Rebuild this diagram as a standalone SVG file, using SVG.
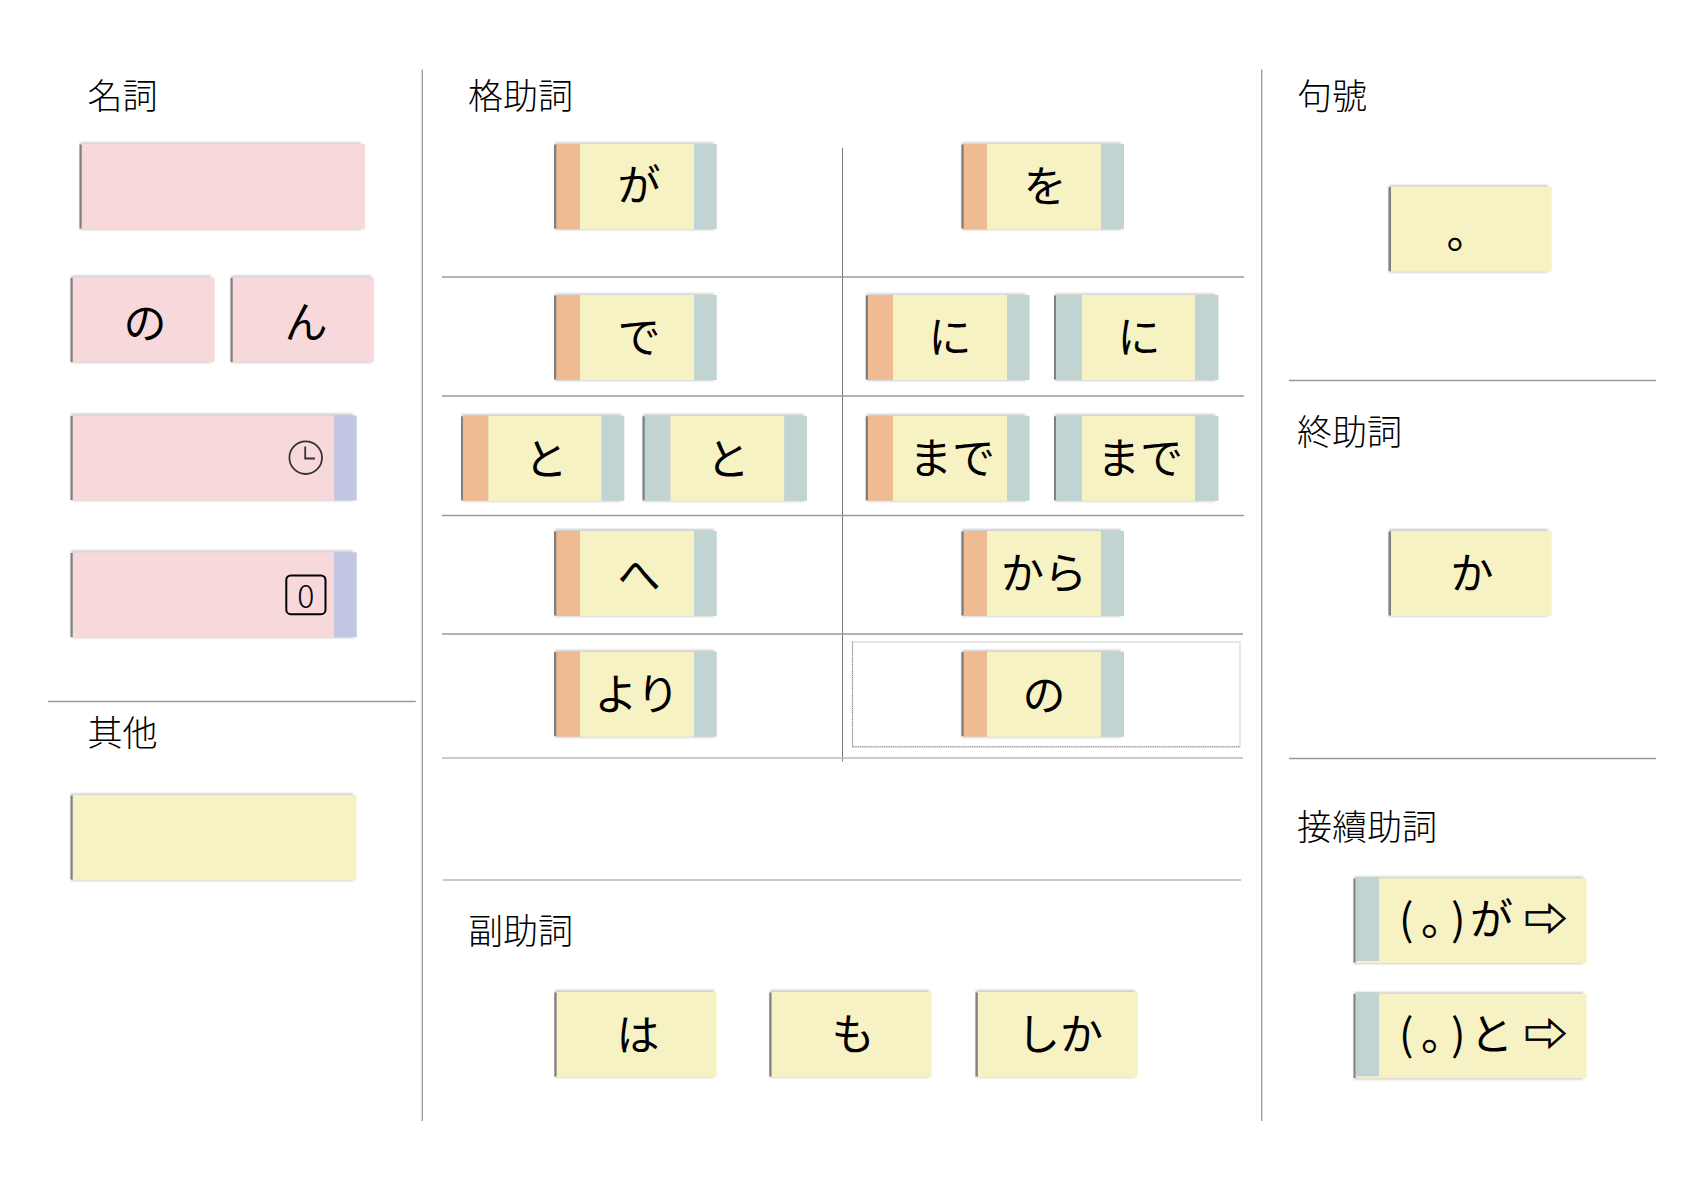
<svg xmlns="http://www.w3.org/2000/svg" width="1684" height="1190" viewBox="0 0 1684 1190">
<style>
text{font-family:"Noto Sans CJK JP","Noto Sans",sans-serif;fill:#000}
.t{font-size:35px;font-weight:300}
.k{font-size:43px;text-anchor:middle}
.p{fill:#F8D9DB}.y{fill:#F7F2C3}.o{fill:#EFBB93}.g{fill:#C1D4D1}.b{fill:#C1C6E3}
.s1{fill:#CCC;filter:url(#bl)}.s2{fill:#808080;filter:url(#bs)}
.l{stroke:#999;stroke-width:1.3;fill:none}.d{stroke:#777;stroke-width:1;fill:none}.m{stroke:#BBB;stroke-width:1.6;fill:none}
</style>
<defs>
<filter id="bl" x="-10%" y="-10%" width="120%" height="120%"><feGaussianBlur stdDeviation="1.1"/></filter>
<filter id="bs" x="-200%" y="-5%" width="500%" height="110%"><feGaussianBlur stdDeviation="0.7"/></filter>
</defs>
<rect width="1684" height="1190" fill="#fff"/>
<g id="connectors">
<path class="l" d="M422.3 69.5V1121M1261.7 69.5V1121"/>
<path class="d" d="M842.5 148V761.5"/>
<path class="l" d="M48 701.5H415.7M442 277H1244M442 396H1244M442 515.5H1244M442 634H1243"/>
<path class="m" d="M442 758H1243M443 880H1241"/>
<path class="l" d="M1289 380.5H1656M1289 758.5H1656"/>
<rect x="852.5" y="642" width="387.5" height="105" fill="none" stroke="#DDD" stroke-width="1.4"/>
<path d="M852.5 642V746.7H1240" fill="none" stroke="#777" stroke-width="1" stroke-dasharray="1 1.2"/>
</g>
<g id="titles">
<text class="t" x="87.5" y="109">名詞</text>
<text class="t" x="87.5" y="746">其他</text>
<text class="t" x="468" y="109">格助詞</text>
<text class="t" x="468" y="944">副助詞</text>
<text class="t" x="1297" y="109">句號</text>
<text class="t" x="1297" y="445">終助詞</text>
<text class="t" x="1297" y="839.5">接續助詞</text>
</g>
<g id="n-noun-blank"><rect class="s1" x="80" y="142.5" width="281" height="87.5"/><rect class="s2" x="79.5" y="144.5" width="3" height="84"/><rect class="p" x="81.7" y="144" width="283.3" height="85.3"/></g>
<g id="n-no"><rect class="s1" x="71" y="275.5" width="140" height="87.5"/><rect class="s2" x="70.5" y="278" width="3" height="84"/><rect class="p" x="72.7" y="277.3" width="142" height="85"/><text class="k" x="145" y="339">の</text></g>
<g id="n-n"><rect class="s1" x="231" y="275.5" width="140" height="87.5"/><rect class="s2" x="230.5" y="278" width="3" height="84"/><rect class="p" x="232.7" y="277.3" width="141.3" height="85"/><text class="k" x="306" y="338">ん</text></g>
<g id="n-clock"><rect class="s1" x="71" y="413.5" width="282" height="87.5"/><rect class="s2" x="70.5" y="416" width="3" height="84"/><rect class="p" x="72.7" y="415.5" width="261.3" height="85"/><rect class="b" x="334" y="415.5" width="22.7" height="85"/>
<circle cx="305.7" cy="457.7" r="16.3" fill="none" stroke="#333" stroke-width="1.8"/><path d="M305.2 446.5V458.5H315" fill="none" stroke="#333" stroke-width="1.8"/></g>
<g id="n-zero"><rect class="s1" x="71" y="550.5" width="282" height="87.5"/><rect class="s2" x="70.5" y="553" width="3" height="84"/><rect class="p" x="72.7" y="552.3" width="261.3" height="85"/><rect class="b" x="334" y="552.3" width="22.7" height="85"/>
<rect x="286.3" y="575.5" width="39.2" height="38.7" rx="4.5" fill="none" stroke="#000" stroke-width="2"/><text x="305.7" y="608" font-size="32" font-weight="300" text-anchor="middle">0</text></g>
<g id="n-other"><rect class="s1" x="71" y="793.5" width="282" height="87.5"/><rect class="s2" x="70.5" y="795.5" width="3" height="84"/><rect class="y" x="72.7" y="795" width="283.8" height="85.3"/></g>
<g id="n-ga"><rect class="s1" x="555" y="142.5" width="159" height="87.5"/><rect class="s2" x="554" y="144.5" width="3" height="84"/><rect class="o" x="556.3" y="144" width="23.7" height="85.3"/><rect class="y" x="580" y="144" width="114" height="85.3"/><rect class="g" x="694" y="144" width="22.7" height="85.3"/><text class="k" x="639" y="201">が</text></g>
<g id="n-wo"><rect class="s1" x="962" y="142.5" width="159" height="87.5"/><rect class="s2" x="961.3" y="144.5" width="3" height="84"/><rect class="o" x="963.7" y="144" width="23.3" height="85.3"/><rect class="y" x="987" y="144" width="114" height="85.3"/><rect class="g" x="1101" y="144" width="23" height="85.3"/><text class="k" x="1045" y="202">を</text></g>
<g id="n-de"><rect class="s1" x="555" y="293.5" width="159" height="87.5"/><rect class="s2" x="554" y="295.5" width="3" height="84"/><rect class="o" x="556.3" y="295" width="23.7" height="85"/><rect class="y" x="580" y="295" width="114" height="85"/><rect class="g" x="694" y="295" width="22.7" height="85"/><text class="k" x="639" y="353">で</text></g>
<g id="n-ni1"><rect class="s1" x="866.5" y="293.5" width="159" height="87.5"/><rect class="s2" x="865.7" y="295.5" width="3" height="84"/><rect class="o" x="868" y="295" width="25" height="85"/><rect class="y" x="893" y="295" width="114" height="85"/><rect class="g" x="1007" y="295" width="22.5" height="85"/><text class="k" x="950" y="353">に</text></g>
<g id="n-ni2"><rect class="s1" x="1055" y="293.5" width="160" height="87.5"/><rect class="s2" x="1054" y="295.5" width="3" height="84"/><rect class="g" x="1056" y="295" width="26" height="85"/><rect class="y" x="1082" y="295" width="113" height="85"/><rect class="g" x="1195" y="295" width="23.5" height="85"/><text class="k" x="1139" y="353">に</text></g>
<g id="n-to1"><rect class="s1" x="462" y="414" width="159" height="87.5"/><rect class="s2" x="461" y="416.3" width="3" height="84"/><rect class="o" x="463" y="415.8" width="25.5" height="85"/><rect class="y" x="488.5" y="415.8" width="113.2" height="85"/><rect class="g" x="601.7" y="415.8" width="22.6" height="85"/><text class="k" x="546" y="475">と</text></g>
<g id="n-to2"><rect class="s1" x="643" y="414" width="161" height="87.5"/><rect class="s2" x="642.5" y="416.3" width="3" height="84"/><rect class="g" x="644.7" y="415.8" width="25.8" height="85"/><rect class="y" x="670.5" y="415.8" width="113.9" height="85"/><rect class="g" x="784.4" y="415.8" width="22.6" height="85"/><text class="k" x="728" y="475">と</text></g>
<g id="n-made1"><rect class="s1" x="866.5" y="414" width="159" height="87.5"/><rect class="s2" x="865.7" y="416.3" width="3" height="84"/><rect class="o" x="868" y="415.8" width="25" height="85"/><rect class="y" x="893" y="415.8" width="114" height="85"/><rect class="g" x="1007" y="415.8" width="22.5" height="85"/><text class="k" x="952" y="474">まで</text></g>
<g id="n-made2"><rect class="s1" x="1055" y="414" width="160" height="87.5"/><rect class="s2" x="1054" y="416.3" width="3" height="84"/><rect class="g" x="1056" y="415.8" width="26" height="85"/><rect class="y" x="1082" y="415.8" width="113" height="85"/><rect class="g" x="1195" y="415.8" width="23.5" height="85"/><text class="k" x="1140" y="474">まで</text></g>
<g id="n-he"><rect class="s1" x="555" y="529" width="159" height="87.5"/><rect class="s2" x="554" y="531.5" width="3" height="84"/><rect class="o" x="556.3" y="531" width="23.7" height="85"/><rect class="y" x="580" y="531" width="114" height="85"/><rect class="g" x="694" y="531" width="22.7" height="85"/><text class="k" x="639" y="591">へ</text></g>
<g id="n-kara"><rect class="s1" x="962" y="529" width="159" height="87.5"/><rect class="s2" x="961.3" y="531.5" width="3" height="84"/><rect class="o" x="963.7" y="531" width="23.3" height="85"/><rect class="y" x="987" y="531" width="114" height="85"/><rect class="g" x="1101" y="531" width="23" height="85"/><text class="k" x="1044" y="589">から</text></g>
<g id="n-yori"><rect class="s1" x="555" y="650" width="159" height="87.5"/><rect class="s2" x="554" y="652.2" width="3" height="84"/><rect class="o" x="556.3" y="651.7" width="23.7" height="85"/><rect class="y" x="580" y="651.7" width="114" height="85"/><rect class="g" x="694" y="651.7" width="22.7" height="85"/><text class="k" x="637" y="710">より</text></g>
<g id="n-no2"><rect class="s1" x="962" y="650" width="159" height="87.5"/><rect class="s2" x="961.3" y="652.2" width="3" height="84"/><rect class="o" x="963.7" y="651.7" width="23.3" height="85"/><rect class="y" x="987" y="651.7" width="114" height="85"/><rect class="g" x="1101" y="651.7" width="23" height="85"/><text class="k" x="1044" y="711">の</text></g>
<g id="n-ha"><rect class="s1" x="555" y="990" width="159" height="87.5"/><rect class="s2" x="554.3" y="992.5" width="3" height="84"/><rect class="y" x="556.6" y="992" width="160" height="85"/><text class="k" x="638" y="1051">は</text></g>
<g id="n-mo"><rect class="s1" x="770" y="990" width="159" height="87.5"/><rect class="s2" x="769.3" y="992.5" width="3" height="84"/><rect class="y" x="771.5" y="992" width="160" height="85"/><text class="k" x="853" y="1050">も</text></g>
<g id="n-shika"><rect class="s1" x="976" y="990" width="159" height="87.5"/><rect class="s2" x="975.5" y="992.5" width="3" height="84"/><rect class="y" x="977.8" y="992" width="160" height="85"/><text class="k" x="1060" y="1050">しか</text></g>
<g id="n-maru"><rect class="s1" x="1389" y="185" width="159" height="87.5"/><rect class="s2" x="1388.5" y="187.2" width="3" height="84"/><rect class="y" x="1391" y="186.7" width="160.7" height="85"/><text class="k" x="1468" y="248">。</text></g>
<g id="n-ka"><rect class="s1" x="1389" y="529" width="159" height="87.5"/><rect class="s2" x="1388.5" y="531.5" width="3" height="84"/><rect class="y" x="1391" y="531" width="160.7" height="85"/><text class="k" x="1472" y="589">か</text></g>
<g id="n-conj-ga"><rect class="s1" x="1354" y="876.5" width="229" height="87.5"/><rect class="s2" x="1353.5" y="878.5" width="3" height="84"/><rect class="y" x="1355.7" y="878.3" width="231" height="84.7"/><rect class="g" x="1355.7" y="877" width="23.3" height="84"/><text font-size="43" x="1399 1421 1451 1470 1524" y="935">(。)が<tspan stroke="#000" stroke-width="0.9">⇨</tspan></text></g>
<g id="n-conj-to"><rect class="s1" x="1354" y="992" width="229" height="87.5"/><rect class="s2" x="1353.5" y="994" width="3" height="84"/><rect class="y" x="1355.7" y="993.7" width="231" height="84.6"/><rect class="g" x="1355.7" y="992.3" width="23.3" height="84"/><text font-size="43" x="1399 1421 1451 1470 1524" y="1050">(。)と<tspan stroke="#000" stroke-width="0.9">⇨</tspan></text></g>
</svg>
